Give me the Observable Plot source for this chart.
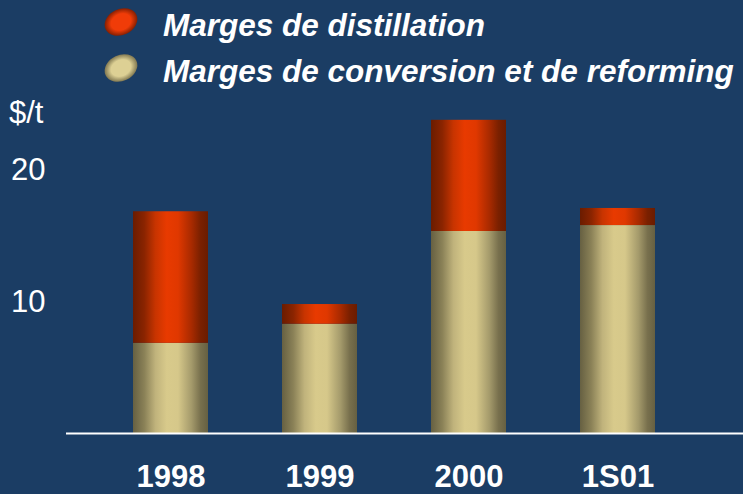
<!DOCTYPE html>
<html>
<head>
<meta charset="utf-8">
<script src="https://cdn.jsdelivr.net/npm/d3@7"></script>
<script src="https://cdn.jsdelivr.net/npm/@observablehq/plot@0.6"></script>
<style>
  html, body { margin: 0; padding: 0; }
  body { background: #1b3d64; width: 743px; height: 494px; overflow: hidden; position: relative; font-family: "Liberation Sans", Arial, sans-serif; }
  #chart { position: absolute; left: 0; top: 0; }
  #legend { position: absolute; left: 0; top: 0; }
</style>
</head>
<body>
<div id="chart"></div>
<svg id="legend" width="743" height="130"></svg>
<script>
// ---- data ----
const periods = ["1998", "1999", "2000", "1S01"];
const conversion = [6.85, 8.3, 15.35, 15.8];
const distillation = [10.0, 1.5, 8.45, 1.3];
const seriesNames = ["Marges de conversion et de reforming", "Marges de distillation"];
const legendOrder = ["Marges de distillation", "Marges de conversion et de reforming"];
const yTicks = [10, 20];
const unitLabel = "$/t";

// ---- table ----
const table = [];
periods.forEach((p, i) => {
  table.push({period: p, series: seriesNames[0], value: conversion[i]});
  table.push({period: p, series: seriesNames[1], value: distillation[i]});
});

const chart = Plot.plot({
  width: 743,
  height: 494,
  marginLeft: 66,
  marginRight: 0,
  marginTop: 104,
  marginBottom: 61,
  style: {background: "transparent", color: "white", fontFamily: "Liberation Sans, Arial, sans-serif", fontSize: "31px"},
  x: {domain: periods, range: [132.5, 654.5], paddingInner: 0.497, paddingOuter: 0, tickSize: 0, tickPadding: 31, label: null},
  y: {domain: [0, 25], ticks: yTicks, tickSize: 0, tickPadding: 21, label: null, tickFormat: d => String(d)},
  color: {domain: seriesNames, range: ["url(#gTan)", "url(#gRed)"]},
  marks: [
    Plot.barY(table, {x: "period", y: "value", fill: "series"}),
    Plot.ruleY([0], {stroke: "white", strokeWidth: 2})
  ]
});

// gradients
const svg = d3.select(chart);
const defs = svg.insert("defs", ":first-child");
function lin(id, stops) {
  const g = defs.append("linearGradient").attr("id", id).attr("x1", "0").attr("x2", "1").attr("y1", "0").attr("y2", "0");
  stops.forEach(([o, c]) => g.append("stop").attr("offset", o).attr("stop-color", c));
}
lin("gRed", [[0, "#6a1c00"], [0.15, "#8a2400"], [0.3, "#c83400"], [0.45, "#e83a00"], [0.6, "#e03800"], [0.78, "#a82a00"], [0.9, "#7a2000"], [1, "#6a1c00"]]);
lin("gTan", [[0, "#666042"], [0.15, "#8a8157"], [0.3, "#c0b37c"], [0.45, "#d8ca8b"], [0.6, "#d6c88a"], [0.78, "#a49a6b"], [0.9, "#78704d"], [1, "#666042"]]);

svg.selectAll('g[aria-label^="x-axis"] text')
  .style("font-family", "'Liberation Sans', Arial, sans-serif")
  .style("font-weight", "bold")
  .style("font-size", "31px");

document.getElementById("chart").appendChild(chart);

// legend + unit label
const leg = d3.select("#legend");
const ldefs = leg.append("defs");
function rad(id, inner, outer) {
  const g = ldefs.append("radialGradient").attr("id", id).attr("cx", "0.5").attr("cy", "0.5").attr("r", "0.55");
  g.append("stop").attr("offset", 0).attr("stop-color", inner);
  g.append("stop").attr("offset", 0.55).attr("stop-color", inner);
  g.append("stop").attr("offset", 1).attr("stop-color", outer);
}
rad("rRed", "#f03c08", "#6a1800");
rad("rTan", "#ddd094", "#6a6240");
const swatch = {"Marges de distillation": "url(#rRed)", "Marges de conversion et de reforming": "url(#rTan)"};
legendOrder.forEach((name, i) => {
  const cy = 22 + i * 46;
  leg.append("ellipse")
    .attr("cx", 121).attr("cy", cy).attr("rx", 17).attr("ry", 13)
    .attr("transform", `rotate(-25 121 ${cy})`)
    .attr("fill", swatch[name]);
  leg.append("text")
    .attr("x", 163).attr("y", 36 + i * 46)
    .attr("fill", "white")
    .style("font-family", "'Liberation Sans', Arial, sans-serif")
    .style("font-weight", "bold")
    .style("font-style", "italic")
    .style("font-size", "31.5px")
    .text(name);
});
leg.append("text")
  .attr("x", 9).attr("y", 123)
  .attr("fill", "white")
  .style("font-family", "'Liberation Sans', Arial, sans-serif")
  .style("font-size", "31px")
  .text(unitLabel);
</script>
</body>
</html>
